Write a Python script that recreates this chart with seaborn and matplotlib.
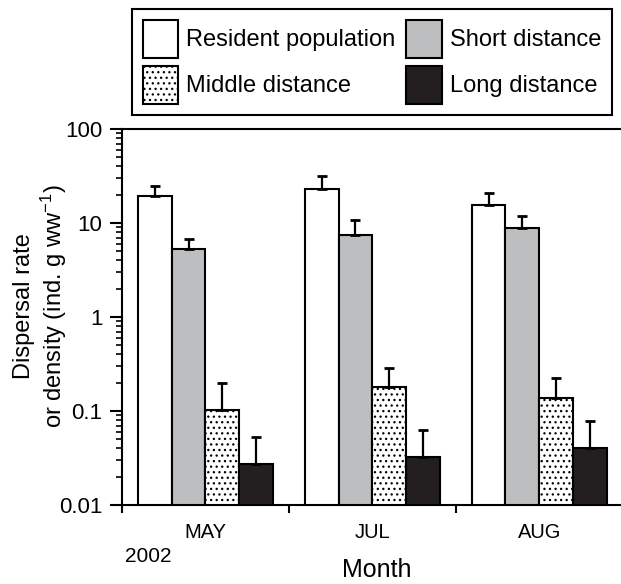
import pandas as pd
import seaborn as sns
import matplotlib.pyplot as plt

months = ["MAY", "JUL", "AUG"]
groups = ["Resident population", "Short distance", "Middle distance", "Long distance"]
resident = [19.5, 23.0, 15.7]
short = [5.3, 7.5, 8.9]
middle = [0.103, 0.18, 0.137]
long_ = [0.0275, 0.0327, 0.0404]
resident_err = [24.9, 31.9, 20.7]
short_err = [6.8, 10.7, 11.9]
middle_err = [0.20, 0.284, 0.223]
long_err = [0.053, 0.0628, 0.0789]
ytick_vals = [0.01, 0.1, 1, 10, 100]
ytick_labels = ["0.01", "0.1", "1", "10", "100"]

colors = ["white", "#BCBEC0", "white", "#231F20"]

sns.set_style("ticks", {"axes.edgecolor": "black", "text.color": "black",
                        "axes.labelcolor": "black", "xtick.color": "black",
                        "ytick.color": "black"})
plt.rcParams["font.family"] = ["Liberation Sans", "DejaVu Sans"]
plt.rcParams["mathtext.fontset"] = "custom"
plt.rcParams["mathtext.rm"] = "Liberation Sans"
plt.rcParams["mathtext.it"] = "Liberation Sans"
plt.rcParams["mathtext.default"] = "regular"
plt.rcParams["hatch.linewidth"] = 0.9
plt.rcParams["hatch.color"] = "black"

vals = [resident, short, middle, long_]
tops = [resident_err, short_err, middle_err, long_err]
df = pd.DataFrame({
    "month": months * 4,
    "group": [g for g in groups for _ in months],
    "value": [v for series in vals for v in series],
})

fig = plt.figure(figsize=(6.21, 5.84), dpi=100)
ax = fig.add_axes([122 / 621, 1 - 505 / 584, 499 / 621, 376 / 584])

sns.barplot(data=df, x="month", y="value", hue="group", hue_order=groups,
            palette=colors, edgecolor="black", linewidth=1.5, width=0.81,
            errorbar=None, legend=False, saturation=1, ax=ax)
ax.set_yscale("log")

# dotted fill for middle distance
for p in ax.containers[2]:
    p.set_hatch("...")

# upper-only error bars
for cont, series, top in zip(ax.containers, vals, tops):
    xs = [p.get_x() + p.get_width() / 2 for p in cont]
    up = [t - v for v, t in zip(series, top)]
    ax.errorbar(xs, series, yerr=[[0] * len(series), up], fmt="none",
                ecolor="black", elinewidth=1.6, capsize=3.5, capthick=2, zorder=5)

ax.set_ylim(0.01, 100)
ax.set_xlim(-0.5, 2.49)
ax.set_yticks(ytick_vals, labels=ytick_labels)
ax.tick_params(axis="y", which="major", length=9, width=1.5, labelsize=16, pad=5)
ax.tick_params(axis="y", which="minor", length=4.5, width=1.2)
ax.set_xticks([0, 1, 2], labels=months)
ax.set_xticks([-0.5, 0.5, 1.5], minor=True)
ax.tick_params(axis="x", which="major", length=0, labelsize=14.5, pad=13)
ax.tick_params(axis="x", which="minor", length=6, width=1.5)

for s in ["left", "bottom", "top"]:
    ax.spines[s].set_linewidth(1.5)
ax.spines["right"].set_visible(False)

ax.set_ylabel("Dispersal rate\nor density (ind. g ww$^{-1}$)", fontsize=17, linespacing=1.15)
ax.yaxis.set_label_coords(-0.106, 0.53)
ax.set_xlabel("Month", fontsize=18)
ax.xaxis.set_label_coords(0.51, -0.14)
ax.text(0.006, -0.136, "2002", transform=ax.transAxes, fontsize=15, va="center", ha="left")

handles = [ax.containers[i][0] for i in [0, 2, 1, 3]]
labels = [groups[i] for i in [0, 2, 1, 3]]
leg = fig.legend(handles, labels, ncol=2, loc="upper left",
                 bbox_to_anchor=(132 / 621, 1 - 9 / 584), fontsize=17,
                 frameon=True, fancybox=False, edgecolor="black", framealpha=1,
                 handlelength=1.5, handleheight=2.1, handletextpad=0.35,
                 columnspacing=0.45, labelspacing=0.35, borderpad=0.45, borderaxespad=0)
leg.get_frame().set_linewidth(1.5)

fig.savefig("out.png", dpi=100)
